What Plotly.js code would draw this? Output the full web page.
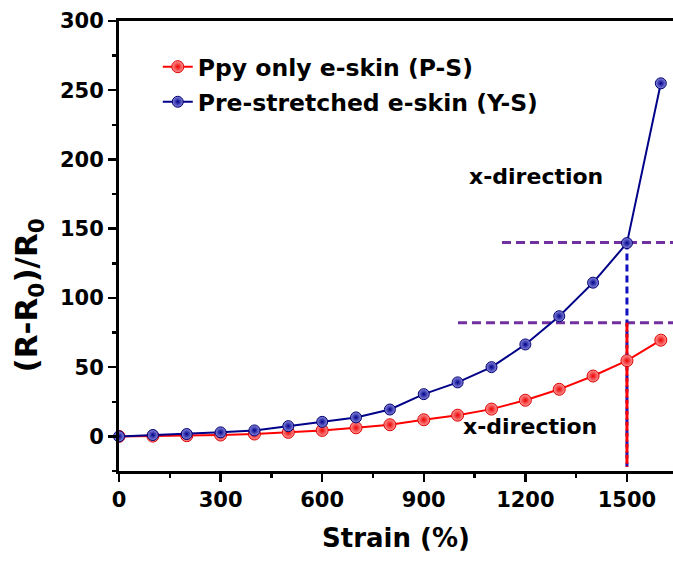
<!DOCTYPE html>
<html>
<head>
<meta charset="utf-8">
<script src="https://cdn.plot.ly/plotly-3.0.1.min.js"></script>
<style>
  html, body { margin: 0; padding: 0; background: #fff; }
  #chart { width: 673px; height: 561px; }
</style>
</head>
<body>
<div id="chart"></div>
<script>
// Strain levels (%)
const strain = [0, 100, 200, 300, 400, 500, 600, 700, 800, 900, 1000, 1100, 1200, 1300, 1400, 1500, 1600];

// Relative resistance change (R-R0)/R0
const ppyOnly = [0, 0.2, 0.5, 1, 1.7, 2.9, 4.3, 6.2, 8.4, 12, 15.3, 19.7, 26.1, 34, 43.6, 54.7, 69.5];
const preStretched = [0, 1, 1.7, 2.9, 4.3, 7.4, 10.5, 13.7, 19.4, 30.5, 39, 50, 66.4, 86.8, 111, 139.6, 255];

// Guide lines at 1500 % strain
const guideStrain = 1500;
const guideLevels = [140, 82];          // Y-S and P-S response at 1500 %
const guideStart = [1131, 1001];        // where each horizontal guide begins
const axisEnd = 1636;
const guideBottom = -22;

// Tick labels
const xTicks = [0, 300, 600, 900, 1200, 1500];
const yTicks = [0, 50, 100, 150, 200, 250, 300];

const FONT = 'DejaVu Sans, Liberation Sans, Arial, sans-serif';
const RED = '#ff0000';
const NAVY = '#000088';
const PURPLE = '#7030a0';

const traces = [
  // horizontal purple guides
  {
    x: [guideStart[0], axisEnd], y: [guideLevels[0], guideLevels[0]],
    mode: 'lines', line: {color: PURPLE, width: 3, dash: '9px,5px'},
    showlegend: false, hoverinfo: 'skip', cliponaxis: false
  },
  {
    x: [guideStart[1], axisEnd], y: [guideLevels[1], guideLevels[1]],
    mode: 'lines', line: {color: PURPLE, width: 3, dash: '9px,5px'},
    showlegend: false, hoverinfo: 'skip', cliponaxis: false
  },
  // vertical guides at 1500 %
  {
    x: [guideStrain, guideStrain], y: [guideLevels[0], guideBottom],
    mode: 'lines', line: {color: '#1010c0', width: 3, dash: '7px,4px'},
    showlegend: false, hoverinfo: 'skip'
  },
  {
    x: [guideStrain, guideStrain], y: [guideLevels[1], guideBottom],
    mode: 'lines', line: {color: RED, width: 3, dash: '9px,2px'},
    showlegend: false, hoverinfo: 'skip'
  },
  // data series
  {
    name: 'Ppy only e-skin (P-S)',
    x: strain, y: ppyOnly,
    mode: 'lines+markers',
    line: {color: RED, width: 2},
    marker: {size: 12, color: '#ff9a9a', gradient: {type: 'radial', color: '#ee0000'},
             line: {color: '#dd0000', width: 1}},
    legend: 'legend'
  },
  {
    name: 'Pre-stretched e-skin (Y-S)',
    x: strain, y: preStretched,
    mode: 'lines+markers',
    line: {color: NAVY, width: 2},
    marker: {size: 11, color: '#8a8ae0', gradient: {type: 'radial', color: '#00008a'},
             line: {color: '#000070', width: 1}},
    legend: 'legend2',
    cliponaxis: false
  }
];

const axisCommon = {
  showline: true, linecolor: '#000', linewidth: 3,
  ticks: 'outside', tickcolor: '#000', tickwidth: 2.5, ticklen: 8,
  showgrid: false, zeroline: false,
  tickfont: {family: FONT, size: 21, color: '#000', weight: 'bold'},
  minor: {ticks: 'outside', ticklen: 4, tickwidth: 2.5, tickcolor: '#000', showgrid: false}
};

const legendCommon = {
  xanchor: 'left', yanchor: 'middle',
  bgcolor: 'rgba(0,0,0,0)', borderwidth: 0,
  font: {family: FONT, size: 23.5, color: '#000', weight: 'bold'}
};

const layout = {
  width: 673, height: 561,
  margin: {l: 119, r: 0, t: 21, b: 90},
  paper_bgcolor: '#fff', plot_bgcolor: '#fff',
  showlegend: true,
  xaxis: Object.assign({}, axisCommon, {
    range: [0, axisEnd],
    tickvals: xTicks, ticktext: xTicks.map(String),
    minor: Object.assign({}, axisCommon.minor, {dtick: 150, tick0: 0}),
    mirror: true,
    title: {text: 'Strain (%)', font: {family: FONT, size: 26, color: '#000', weight: 'bold'}, standoff: 18}
  }),
  yaxis: Object.assign({}, axisCommon, {
    range: [-25, 300],
    tickvals: yTicks, ticktext: yTicks.map(String),
    minor: Object.assign({}, axisCommon.minor, {dtick: 25, tick0: -25})
  }),
  legend: Object.assign({}, legendCommon, {x: 0.07, y: 0.898}),
  legend2: Object.assign({}, legendCommon, {x: 0.07, y: 0.82}),
  annotations: [
    // y-axis title, set a little below the axis midpoint
    {x: -0.1625, y: 0.39, xref: 'paper', yref: 'paper', xanchor: 'center', yanchor: 'middle',
     text: '(R-R<sub>0</sub>)/R<sub>0</sub>', textangle: -90, showarrow: false,
     font: {family: FONT, size: 31, color: '#000', weight: 'bold'}},
    {x: 1231, y: 187.5, xref: 'x', yref: 'y', text: 'x-direction', showarrow: false,
     font: {family: FONT, size: 22, color: '#000', weight: 'bold'}},
    {x: 1214, y: 7, xref: 'x', yref: 'y', text: 'x-direction', showarrow: false,
     font: {family: FONT, size: 22, color: '#000', weight: 'bold'}}
  ]
};

Plotly.newPlot('chart', traces, layout, {displayModeBar: false, staticPlot: true});
</script>
</body>
</html>
